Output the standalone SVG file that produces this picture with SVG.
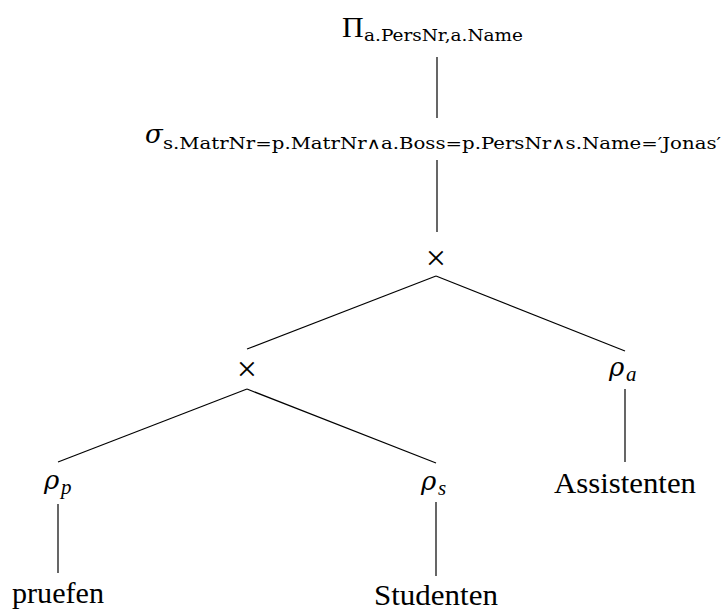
<svg xmlns="http://www.w3.org/2000/svg" width="724" height="610" viewBox="0 0 724 610">
<style>
  .main { font-family: "Liberation Serif", "DejaVu Serif", serif; font-size: 30px; fill: #000; }
  .greek { font-family: "DejaVu Serif", "Liberation Serif", serif; font-style: italic; font-size: 26px; fill: #000; }
  .op { font-family: "Liberation Serif", "DejaVu Serif", serif; font-size: 36px; fill: #000; }
  .sub { font-family: "DejaVu Serif", "Liberation Serif", serif; font-size: 16px; fill: #000; }
  .subit { font-family: "Liberation Serif", "DejaVu Serif", serif; font-style: italic; font-size: 21px; fill: #000; }
  .edge { stroke: #000; stroke-width: 1.2; fill: none; }
</style>
<rect width="724" height="610" fill="#fff"/>
<g id="connectors">
  <line class="edge" x1="437" y1="57" x2="437" y2="118"/>
  <line class="edge" x1="437" y1="160" x2="437" y2="232"/>
  <line class="edge" x1="436" y1="276" x2="247" y2="349"/>
  <line class="edge" x1="436" y1="276" x2="625" y2="351"/>
  <line class="edge" x1="247" y1="389" x2="58" y2="462"/>
  <line class="edge" x1="247" y1="389" x2="436" y2="463"/>
  <line class="edge" x1="625" y1="389" x2="625" y2="462"/>
  <line class="edge" x1="58" y1="504" x2="58" y2="573"/>
  <line class="edge" x1="436" y1="502" x2="436" y2="576"/>
</g>
<g id="projection">
  <text class="main" x="342" y="37">Π</text>
  <text class="sub" x="364" y="41" textLength="159" lengthAdjust="spacingAndGlyphs">a.PersNr,a.Name</text>
</g>
<g id="selection">
  <text class="greek" x="145" y="143">σ</text>
  <text class="sub" x="163" y="149" textLength="558" lengthAdjust="spacingAndGlyphs">s.MatrNr=p.MatrNr∧a.Boss=p.PersNr∧s.Name=′Jonas′</text>
</g>
<g id="cross1">
  <text class="op" x="436" y="270" text-anchor="middle">×</text>
</g>
<g id="cross2">
  <text class="op" x="247" y="381" text-anchor="middle">×</text>
</g>
<g id="rho-a">
  <text class="greek" x="609" y="376">ρ</text>
  <text class="subit" x="626" y="381">a</text>
</g>
<g id="assistenten">
  <text class="main" x="625" y="493" text-anchor="middle" textLength="142" lengthAdjust="spacingAndGlyphs">Assistenten</text>
</g>
<g id="rho-p">
  <text class="greek" x="44" y="489">ρ</text>
  <text class="subit" x="61" y="494">p</text>
</g>
<g id="rho-s">
  <text class="greek" x="421" y="490">ρ</text>
  <text class="subit" x="438" y="495">s</text>
</g>
<g id="pruefen">
  <text class="main" x="58" y="603" text-anchor="middle" textLength="92" lengthAdjust="spacingAndGlyphs">pruefen</text>
</g>
<g id="studenten">
  <text class="main" x="436" y="605" text-anchor="middle" textLength="124" lengthAdjust="spacingAndGlyphs">Studenten</text>
</g>
</svg>
